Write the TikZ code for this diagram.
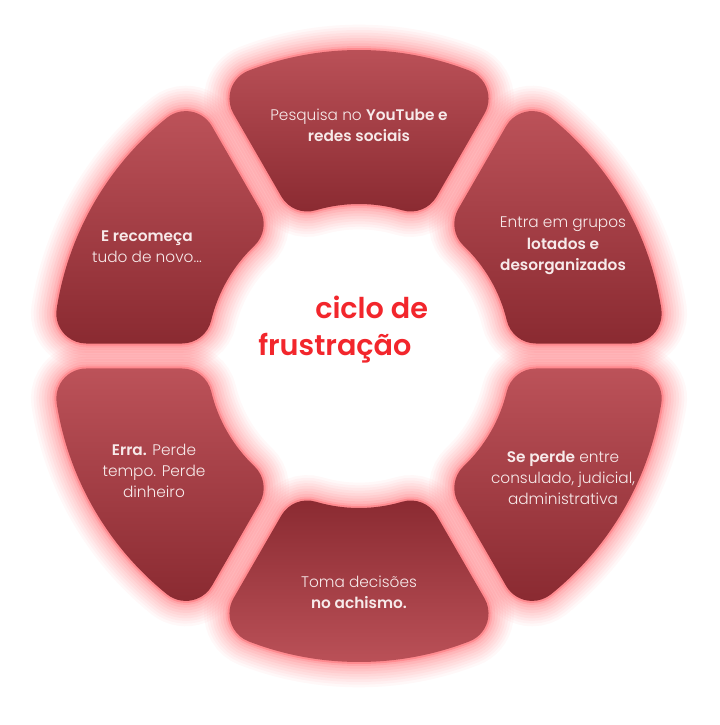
\documentclass[tikz,border=0pt]{standalone}
\usepackage{fontspec}
\setmainfont{Poppins}[UprightFont=* Light, BoldFont=* SemiBold]
\usepackage{tikz}
\definecolor{segLight}{HTML}{BC5259}
\definecolor{segDark}{HTML}{8A2A31}
\definecolor{glowRed}{HTML}{FF4A52}
\definecolor{cycleRed}{HTML}{F2262C}
\definecolor{segText}{HTML}{F7EAEA}
\pgfmathsetmacro{\Ro}{306}
\pgfmathsetmacro{\Ri}{152}
\pgfmathsetmacro{\gap}{12.5}
\pgfmathsetmacro{\rc}{30}
\pgfmathsetmacro{\dOut}{asin((\gap + \rc) / (\Ro - \rc))}
\pgfmathsetmacro{\dIn}{asin((\gap + \rc) / (\Ri + \rc))}
% one rounded ring segment between two angles
\newcommand{\segpath}[2]{(#1+\dOut:\Ro) arc[start angle=#1+\dOut, end angle=#2-\dOut, radius=\Ro]
	arc[start angle=#2-\dOut, end angle=#2+90, radius=\rc]
	-- ([shift={(#2+90:\rc)}]#2-\dIn:\Ri+\rc)
	arc[start angle=#2+90, end angle=#2-\dIn+180, radius=\rc]
	arc[start angle=#2-\dIn, end angle=#1+\dIn, radius=\Ri]
	arc[start angle=#1+\dIn+180, end angle=#1+270, radius=\rc]
	-- ([shift={(#1-90:\rc)}]#1+\dOut:\Ro-\rc)
	arc[start angle=#1-90, end angle=#1+\dOut, radius=\rc] -- cycle}
\tikzset{
	glow/.style={
		preaction={draw=glowRed, line width=38, opacity=.04},
		preaction={draw=glowRed, line width=34, opacity=.045},
		preaction={draw=glowRed, line width=30, opacity=.05},
		preaction={draw=glowRed, line width=26, opacity=.055},
		preaction={draw=glowRed, line width=22, opacity=.06},
		preaction={draw=glowRed, line width=18, opacity=.07},
		preaction={draw=glowRed, line width=14, opacity=.08},
		preaction={draw=glowRed, line width=10, opacity=.1},
		preaction={draw=glowRed, line width=6, opacity=.15},
		preaction={draw=glowRed, line width=3, opacity=.3}},
	seglabel/.style={align=center, text=segText, font=\fontsize{11.5}{16}\selectfont},
	cyclelabel/.style={anchor=base west, inner sep=0, text=cycleRed, font=\fontsize{21.5}{26}\selectfont\bfseries},
}

\begin{document}
\begin{tikzpicture}[x=0.75pt, y=0.75pt]
		\useasboundingbox (-359, -369) rectangle (360, 356);
		\shade[glow, top color=segLight, bottom color=segDark] \segpath{60}{120};
		\shade[glow, top color=segLight, bottom color=segDark] \segpath{0}{60};
		\shade[glow, top color=segLight, bottom color=segDark] \segpath{-60}{0};
		\shade[glow, top color=segDark, bottom color=segLight] \segpath{-120}{-60};
		\shade[glow, top color=segLight, bottom color=segDark] \segpath{180}{240};
		\shade[glow, top color=segLight, bottom color=segDark] \segpath{120}{180};

		\node[seglabel] (youtube) at (0, 231) {Pesquisa no \textbf{YouTube e}\\\textbf{redes sociais}};
		\node[seglabel] (grupos) at (204, 110) {Entra em grupos\\\textbf{lotados e}\\\textbf{desorganizados}};
		\node[seglabel] (perde) at (204, -122) {\textbf{Se perde} entre\\consulado, judicial,\\administrativa};
		\node[seglabel] (achismo) at (0, -236) {Toma decisões\\\textbf{no achismo.}};
		\node[seglabel] (erra) at (-205, -115) {\textbf{Erra.} Perde\\tempo. Perde\\dinheiro};
		\node[seglabel] (recomeca) at (-212, 109) {\textbf{E recomeça}\\tudo de novo...};

		\node[cyclelabel] (ciclo) at (-44, 37) {ciclo de};
		\node[cyclelabel] (frustracao) at (-101, 0) {frustração};

	\end{tikzpicture}
\end{document}
